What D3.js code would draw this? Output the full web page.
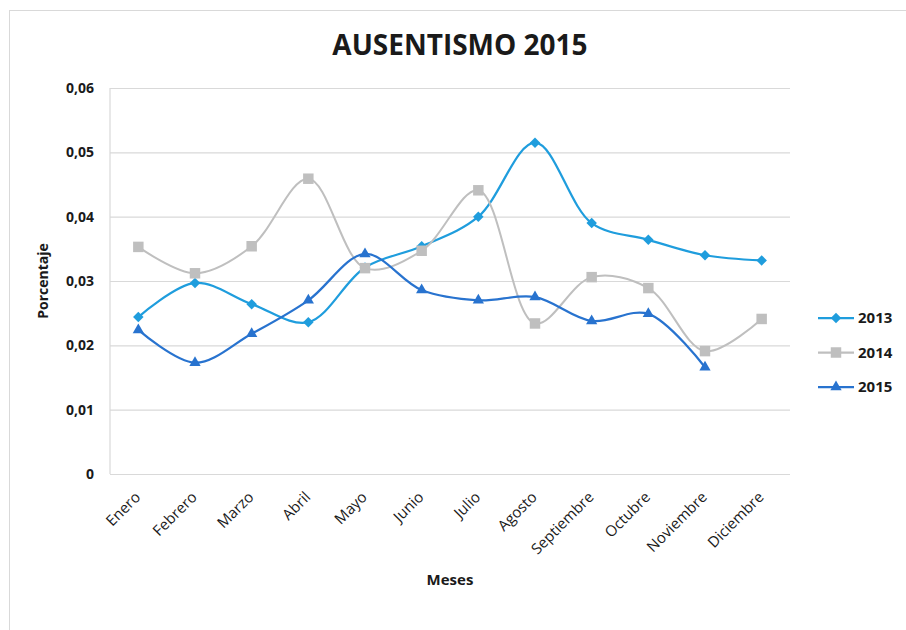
<!DOCTYPE html>
<html>
<head>
<meta charset="utf-8">
<script src="https://cdn.jsdelivr.net/npm/d3@7"></script>
<style>
  body { margin: 0; background: #fff; }
  text { font-family: "Open Sans", "Noto Sans", sans-serif; fill: #1a1a1a; }
</style>
</head>
<body>
<div id="chart"></div>
<script>
// Data
const meses = ['Enero', 'Febrero', 'Marzo', 'Abril', 'Mayo', 'Junio', 'Julio',
  'Agosto', 'Septiembre', 'Octubre', 'Noviembre', 'Diciembre'];
const v2013 = [0.0244, 0.0297, 0.0264, 0.0236, 0.0321, 0.0354, 0.0400, 0.0515, 0.0390, 0.0364, 0.0340, 0.0332];
const v2014 = [0.0353, 0.0312, 0.0354, 0.0459, 0.0320, 0.0347, 0.0441, 0.0234, 0.0306, 0.0289, 0.0191, 0.0241];
const v2015 = [0.0224, 0.0173, 0.0218, 0.0270, 0.0342, 0.0286, 0.0270, 0.0275, 0.0238, 0.0249, 0.0166, null];
const yTicks = [0, 0.01, 0.02, 0.03, 0.04, 0.05, 0.06];

const series = [
  { name: '2013', values: v2013, color: '#1f9ddd', marker: d3.symbolDiamond2, size: 70 },
  { name: '2014', values: v2014, color: '#bfbfbf', marker: d3.symbolSquare2, size: 140 },
  { name: '2015', values: v2015, color: '#2873cf', marker: d3.symbolTriangle, size: 55 }
];

const W = 906, H = 630;
const margin = { top: 88, right: 116, bottom: 156, left: 110 };
const width = W - margin.left - margin.right;
const height = H - margin.top - margin.bottom;

const svg = d3.select('#chart').append('svg')
  .attr('width', W)
  .attr('height', H);

// chart frame
svg.append('rect')
  .attr('x', 9.5).attr('y', 10.5)
  .attr('width', 920).attr('height', 640)
  .attr('fill', 'none')
  .attr('stroke', '#d9d9d9');

const chart = svg.append('g')
  .attr('transform', `translate(${margin.left},${margin.top})`);

const xScale = d3.scaleBand().domain(meses).range([0, width]);
const yScale = d3.scaleLinear().domain([0, 0.06]).range([height, 0]);

// gridlines
chart.append('g')
  .attr('class', 'grid')
  .call(d3.axisLeft(yScale).tickValues(yTicks).tickSize(-width).tickFormat(''))
  .call(g => g.select('.domain').remove())
  .call(g => g.selectAll('line').attr('stroke', '#d9d9d9').attr('stroke-width', 1.2));

// vertical axis line
chart.append('line')
  .attr('x1', 0).attr('x2', 0)
  .attr('y1', 0).attr('y2', height)
  .attr('stroke', '#d9d9d9').attr('stroke-width', 1.2);

// y axis labels
const fmt = d => d === 0 ? '0' : d3.format('.2f')(d).replace('.', ',');
chart.append('g')
  .call(d3.axisLeft(yScale).tickValues(yTicks).tickSize(0).tickPadding(16).tickFormat(fmt))
  .call(g => g.select('.domain').remove())
  .call(g => g.selectAll('text')
    .style('font-size', '14px').style('font-weight', 'bold').attr('fill', '#262626'));

// x axis labels
chart.append('g')
  .attr('transform', `translate(0,${height})`)
  .call(d3.axisBottom(xScale).tickSize(0).tickPadding(0))
  .call(g => g.select('.domain').remove())
  .call(g => g.selectAll('text')
    .style('font-size', '15px')
    .attr('fill', '#2b2b2b')
    .attr('text-anchor', 'end')
    .attr('dy', 0)
    .attr('transform', 'translate(3,24) rotate(-45)'));

// lines
const line = d3.line()
  .defined(d => d.v !== null)
  .x(d => xScale(d.m) + xScale.bandwidth() / 2)
  .y(d => yScale(d.v))
  .curve(d3.curveCatmullRom.alpha(0.5));

series.forEach(s => {
  const pts = meses.map((m, i) => ({ m: m, v: s.values[i] }));
  chart.append('path')
    .datum(pts)
    .attr('fill', 'none')
    .attr('stroke', s.color)
    .attr('stroke-width', s.name === '2014' ? 2 : 2.25)
    .attr('d', line);
  chart.selectAll(null)
    .data(pts.filter(d => d.v !== null))
    .join('path')
    .attr('transform', d => `translate(${xScale(d.m) + xScale.bandwidth() / 2},${yScale(d.v)})`)
    .attr('d', d3.symbol(s.marker, s.size))
    .attr('fill', s.color);
});

// axis titles
svg.append('text')
  .attr('x', 460).attr('y', 55)
  .attr('text-anchor', 'middle')
  .style('font-size', '28px').style('font-weight', 'bold')
  .text('AUSENTISMO 2015');

svg.append('text')
  .attr('transform', 'translate(48,281) rotate(-90)')
  .attr('text-anchor', 'middle')
  .style('font-size', '14px').style('font-weight', 'bold')
  .text('Porcentaje');

svg.append('text')
  .attr('x', 450).attr('y', 585)
  .attr('text-anchor', 'middle')
  .style('font-size', '15px').style('font-weight', 'bold')
  .text('Meses');

// legend
const legend = svg.append('g').attr('transform', 'translate(818,318)');
series.forEach((s, i) => {
  const g = legend.append('g').attr('transform', `translate(0,${i * 34.5})`);
  g.append('line')
    .attr('x1', 0).attr('x2', 36)
    .attr('stroke', s.color).attr('stroke-width', 2.25);
  g.append('path')
    .attr('transform', 'translate(18,0)')
    .attr('d', d3.symbol(s.marker, s.size))
    .attr('fill', s.color);
  g.append('text')
    .attr('x', 40).attr('dy', '0.35em')
    .style('font-size', '15px').style('font-weight', 'bold')
    .text(s.name);
});
</script>
</body>
</html>
